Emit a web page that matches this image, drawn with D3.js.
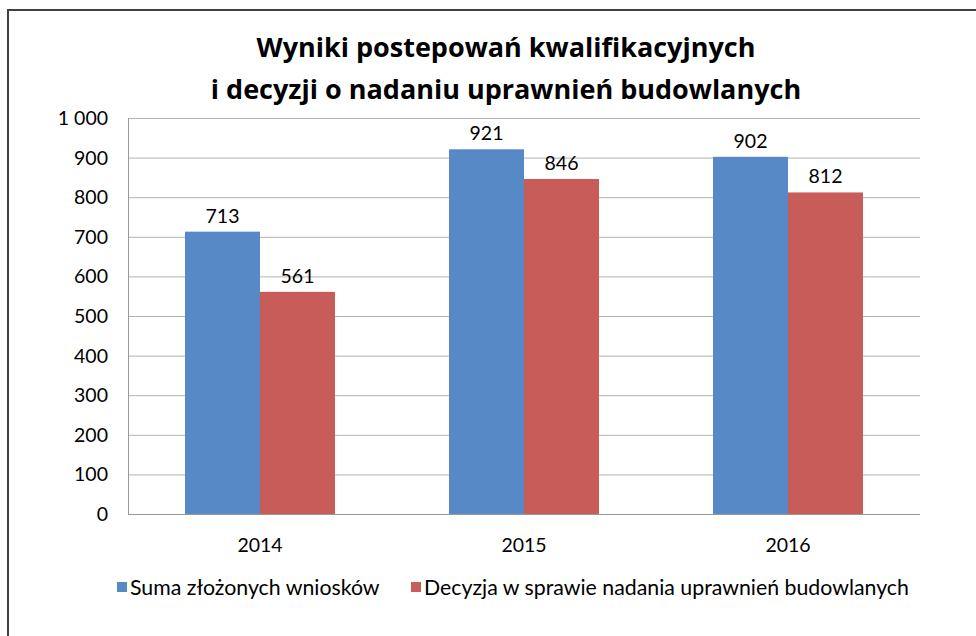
<!DOCTYPE html>
<html>
<head>
<meta charset="utf-8">
<script src="https://cdn.jsdelivr.net/npm/d3@7"></script>
<style>
  body { margin: 0; background: white; }
  svg { display: block; font-family: Lato, "Open Sans", sans-serif; }
</style>
</head>
<body>
<svg id="chart" width="976" height="636"></svg>
<script>
var years = ["2014", "2015", "2016"];
var seriesNames = ["Suma złożonych wniosków", "Decyzja w sprawie nadania uprawnień budowlanych"];
var wnioski = [713, 921, 902];
var decyzje = [561, 846, 812];
var yTicks = [0, 100, 200, 300, 400, 500, 600, 700, 800, 900, 1000];

var colors = ["#5689C5", "#C75C59"];
var fs = 19.5;

var svg = d3.select("#chart");
var width = 976, height = 636;
var margin = {left: 128, right: 56, top: 118, bottom: 122};

// frame
svg.append("path")
  .attr("d", "M8,636 L8,10 L976,10")
  .attr("fill", "none")
  .attr("stroke", "#404040")
  .attr("stroke-width", 2);

var x = d3.scaleBand().domain(years)
  .range([margin.left, width - margin.right]);
var sub = d3.scaleBand().domain([0, 1])
  .range([57, x.bandwidth() - 57]);
var y = d3.scaleLinear().domain([0, 1000]).range([height - margin.bottom, margin.top]);

// gridlines
svg.append("g").selectAll("line").data(yTicks.filter(function(d){ return d > 0; }))
  .enter().append("line")
  .attr("x1", margin.left).attr("x2", width - margin.right)
  .attr("y1", function(d){ return y(d) + 0.5; }).attr("y2", function(d){ return y(d) + 0.5; })
  .attr("stroke", "#b3b3b3").attr("stroke-width", 1);

// y labels
svg.append("g").selectAll("text").data(yTicks).enter().append("text")
  .attr("x", 108).attr("y", function(d){ return y(d); })
  .attr("dy", "0.36em").attr("text-anchor", "end")
  .attr("font-size", fs).attr("fill", "#000")
  .text(function(d){ return d === 1000 ? "1 000" : d; });

var data = [];
years.forEach(function(yr, i) {
  data.push({year: yr, s: 0, v: wnioski[i]});
  data.push({year: yr, s: 1, v: decyzje[i]});
});

svg.append("g").selectAll("rect").data(data).enter().append("rect")
  .attr("x", function(d){ return x(d.year) + sub(d.s); })
  .attr("width", sub.bandwidth())
  .attr("y", function(d){ return y(d.v); })
  .attr("height", function(d){ return y(0) - y(d.v); })
  .attr("fill", function(d){ return colors[d.s]; });

svg.append("g").selectAll("text").data(data).enter().append("text")
  .attr("x", function(d){ return x(d.year) + sub(d.s) + sub.bandwidth() / 2; })
  .attr("y", function(d){ return y(d.v) - 9; })
  .attr("text-anchor", "middle")
  .attr("font-size", fs).attr("fill", "#000")
  .text(function(d){ return d.v; });

// axes lines
svg.append("line")
  .attr("x1", margin.left + 0.5).attr("x2", margin.left + 0.5)
  .attr("y1", y(1000)).attr("y2", y(0))
  .attr("stroke", "#999").attr("stroke-width", 1);
svg.append("line")
  .attr("x1", margin.left).attr("x2", width - margin.right)
  .attr("y1", y(0) + 0.5).attr("y2", y(0) + 0.5)
  .attr("stroke", "#999").attr("stroke-width", 1);

// x labels
svg.append("g").selectAll("text").data(years).enter().append("text")
  .attr("x", function(d){ return x(d) + x.bandwidth() / 2; })
  .attr("y", 552)
  .attr("text-anchor", "middle")
  .attr("font-size", fs).attr("fill", "#000")
  .text(function(d){ return d; });

// title
var title = svg.append("text")
  .attr("text-anchor", "middle")
  .attr("font-size", 27).attr("font-weight", "bold").attr("fill", "#000")
  .attr("font-family", "'Open Sans', sans-serif");
title.append("tspan").attr("x", 506).attr("y", 57).text("Wyniki postepowań kwalifikacyjnych");
title.append("tspan").attr("x", 506).attr("y", 99).text("i decyzji o nadaniu uprawnień budowlanych");

// legend
var legendX = [117, 411];
var leg = svg.append("g").selectAll("g").data(seriesNames).enter().append("g");
leg.append("rect")
  .attr("x", function(d, i){ return legendX[i]; })
  .attr("y", 582).attr("width", 10).attr("height", 10)
  .attr("fill", function(d, i){ return colors[i]; });
leg.append("text")
  .attr("x", function(d, i){ return legendX[i] + 13; })
  .attr("y", 595)
  .attr("font-size", 21.3).attr("fill", "#000")
  .text(function(d){ return d; });
</script>
</body>
</html>
